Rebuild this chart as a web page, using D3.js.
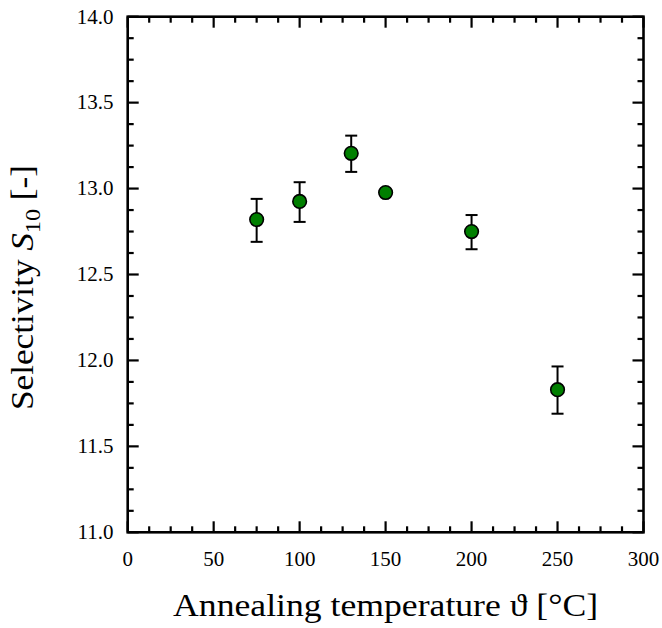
<!DOCTYPE html>
<html><head><meta charset="utf-8">
<script src="https://cdn.jsdelivr.net/npm/d3@7"></script>
<style>body{margin:0;background:#fff}svg{display:block}</style>
</head><body><svg id="c" width="662" height="628"></svg>
<script>
const temps = [75, 100, 130, 150, 200, 250];
const selectivity = [12.82, 12.925, 13.205, 12.977, 12.75, 11.83];
const errLow = [12.69, 12.806, 13.097, 12.96, 12.647, 11.69];
const errHigh = [12.94, 13.037, 13.308, 12.995, 12.846, 11.965];
const xTicks = [0, 50, 100, 150, 200, 250, 300];
const yTicks = [11.0, 11.5, 12.0, 12.5, 13.0, 13.5, 14.0];

const FF = "'Liberation Serif', 'Times New Roman', serif";
const svg = d3.select("#c");
const L = 127.7, R = 643.5, T = 16.7, B = 532.3;
const x = d3.scaleLinear().domain([0, 300]).range([L, R]);
const y = d3.scaleLinear().domain([11, 14]).range([B, T]);

const g = svg.append("g").attr("font-family", FF);
const xMinor = d3.range(0, 300.1, 12.5);
const yMinor = d3.range(11, 14.001, 0.125);
const isMajX = v => Math.abs(v / 50 - Math.round(v / 50)) < 1e-6;
const isMajY = v => Math.abs(v / 0.5 - Math.round(v / 0.5)) < 1e-6;

xMinor.forEach(v => {
  const len = isMajX(v) ? 11 : 6;
  g.append("line").attr("x1", x(v)).attr("x2", x(v)).attr("y1", B).attr("y2", B - len).attr("stroke", "#000").attr("stroke-width", 2.2);
  g.append("line").attr("x1", x(v)).attr("x2", x(v)).attr("y1", T).attr("y2", T + len).attr("stroke", "#000").attr("stroke-width", 2.2);
});
yMinor.forEach(v => {
  const len = isMajY(v) ? 11 : 6;
  g.append("line").attr("y1", y(v)).attr("y2", y(v)).attr("x1", L).attr("x2", L + len).attr("stroke", "#000").attr("stroke-width", 2.2);
  g.append("line").attr("y1", y(v)).attr("y2", y(v)).attr("x1", R).attr("x2", R - len).attr("stroke", "#000").attr("stroke-width", 2.2);
});
g.append("rect").attr("x", L).attr("y", T).attr("width", R - L).attr("height", B - T).attr("fill", "none").attr("stroke", "#000").attr("stroke-width", 2.6);

xTicks.forEach(v => g.append("text").attr("x", x(v)).attr("y", 566).attr("text-anchor", "middle").attr("font-family", FF).attr("font-size", 21).attr("fill", "#000").text(v));
yTicks.forEach(v => g.append("text").attr("x", 113.5).attr("y", y(v) + 6.8).attr("text-anchor", "end").attr("font-family", FF).attr("font-size", 21).attr("fill", "#000").text(v.toFixed(1)));

g.append("text").attr("x", (L + R) / 2).attr("y", 615.7).attr("text-anchor", "middle")
  .attr("font-family", FF).attr("font-size", 32).attr("textLength", 425).attr("lengthAdjust", "spacingAndGlyphs")
  .text("Annealing temperature \u03D1 [\u00B0C]");
const yt = g.append("text").attr("transform", "translate(33.3,287.5) rotate(-90)").attr("text-anchor", "middle")
  .attr("font-family", FF).attr("font-size", 32).attr("textLength", 245).attr("lengthAdjust", "spacingAndGlyphs");
yt.append("tspan").text("Selectivity ");
yt.append("tspan").attr("font-style", "italic").text("S");
yt.append("tspan").attr("font-size", 22).attr("dy", 7).text("10");
yt.append("tspan").attr("dy", -7).text(" [-]");

const eb = g.append("g").attr("stroke", "#000").attr("stroke-width", 2);
temps.forEach((t, i) => {
  eb.append("line").attr("x1", x(t)).attr("x2", x(t)).attr("y1", y(errLow[i])).attr("y2", y(errHigh[i]));
  eb.append("line").attr("x1", x(t) - 6).attr("x2", x(t) + 6).attr("y1", y(errLow[i])).attr("y2", y(errLow[i]));
  eb.append("line").attr("x1", x(t) - 6).attr("x2", x(t) + 6).attr("y1", y(errHigh[i])).attr("y2", y(errHigh[i]));
});
g.selectAll("circle.pt").data(temps).enter().append("circle")
  .attr("cx", d => x(d)).attr("cy", (d, i) => y(selectivity[i])).attr("r", 6.8)
  .attr("fill", "#007f00").attr("stroke", "#000").attr("stroke-width", 1.6);
</script></body></html>
